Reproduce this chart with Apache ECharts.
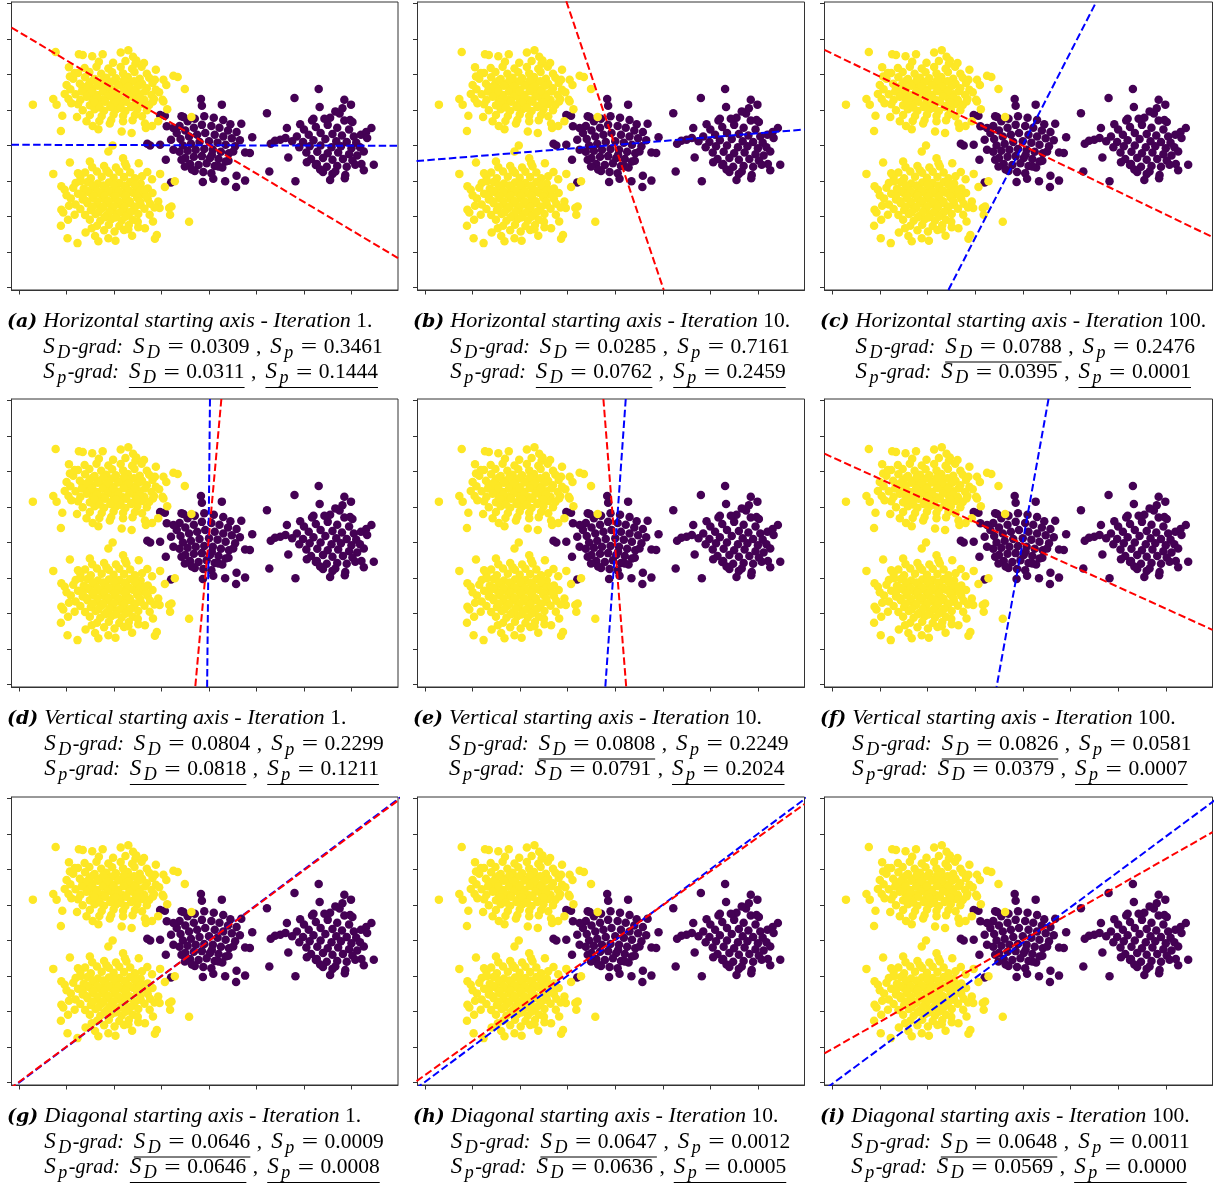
<!DOCTYPE html>
<html>
<head>
<meta charset="utf-8">
<script src="https://cdn.jsdelivr.net/npm/echarts@6/dist/echarts.min.js"></script>
<style>
  html, body { margin: 0; padding: 0; background: #fff; }
  #chart { width: 1219px; height: 1187px; }
</style>
</head>
<body>
<div id="chart"></div>
<script>
// ---- point clouds (standardised feature space) ----
const yellowUpper = [
  [-2.32,2.36],[-2.02,2.33],[-1.76,2.38],[-1.55,2.30],
  [-2.62,2.18],[-2.37,2.22],[-2.12,2.17],[-1.86,2.21],[-1.62,2.16],[-1.42,2.22],
  [-2.76,2.04],[-2.52,2.07],[-2.27,2.02],[-2.04,2.06],[-1.81,2.03],[-1.57,2.07],[-1.31,2.02],
  [-2.86,1.88],[-2.61,1.92],[-2.41,1.87],[-2.16,1.91],[-1.96,1.89],[-1.71,1.93],[-1.46,1.88],[-1.26,1.91],
  [-2.72,1.74],[-2.51,1.77],[-2.31,1.73],[-2.09,1.76],[-1.86,1.72],[-1.66,1.77],[-1.41,1.74],[-1.19,1.76],
  [-2.92,1.58],[-2.66,1.62],[-2.46,1.59],[-2.21,1.61],[-2.01,1.57],[-1.76,1.62],[-1.56,1.58],[-1.31,1.61],[-1.12,1.57],
  [-2.81,1.44],[-2.56,1.47],[-2.36,1.42],[-2.11,1.46],[-1.91,1.43],[-1.66,1.47],[-1.46,1.44],[-1.21,1.42],
  [-2.96,1.31],[-2.71,1.28],[-2.46,1.32],[-2.26,1.29],[-2.01,1.31],[-1.81,1.27],[-1.56,1.32],[-1.36,1.28],[-1.16,1.31],
  [-2.76,1.16],[-2.51,1.13],[-2.31,1.17],[-2.06,1.14],[-1.86,1.16],[-1.61,1.12],[-1.41,1.17],[-1.26,1.14],
  [-2.66,0.99],[-2.41,1.02],[-2.21,0.98],[-1.96,1.01],[-1.76,0.97],[-1.51,1.02],[-1.31,0.99],
  [-2.51,0.86],[-2.26,0.83],[-2.01,0.87],[-1.81,0.84],[-1.56,0.86],[-1.41,0.82],
  [-2.31,0.69],[-2.06,0.72],[-1.81,0.68],[-1.61,0.71],
  [-2.45,1.82],[-2.23,1.83],[-2.02,1.81],[-1.80,1.83],[-1.58,1.81],
  [-2.57,1.67],[-2.34,1.68],[-2.13,1.66],[-1.91,1.69],[-1.70,1.66],[-1.48,1.68],
  [-2.68,1.52],[-2.46,1.53],[-2.24,1.51],[-2.02,1.52],[-1.80,1.53],[-1.57,1.51],[-1.35,1.52],
  [-2.58,1.37],[-2.36,1.36],[-2.14,1.38],[-1.91,1.36],[-1.68,1.38],[-1.46,1.36],
  [-2.41,1.22],[-2.19,1.23],[-1.96,1.21],[-1.74,1.23],[-1.52,1.21],
  [-2.30,1.07],[-2.08,1.08],[-1.86,1.06],[-1.64,1.08],
  [-3.71,1.15],[-3.23,2.63],[-2.74,2.57],[-2.66,2.55],[-2.46,2.51],[-2.24,2.57],[-1.86,2.62],[-1.70,2.68],
  [-1.53,2.39],[-1.37,2.32],[-1.12,2.13],[-0.75,1.96],[-0.66,1.93],[-0.51,1.59],[-1.14,1.85],[-0.96,1.85],
  [-3.28,1.31],[-3.21,1.15],[-3.09,0.84],[-3.12,0.41],[-2.93,1.94],[-2.83,2.04],[-3.04,1.45],[-2.90,1.19],
  [-2.58,0.68],[-2.33,0.46],[-2.09,0.62],[-1.84,0.39],[-1.63,0.35],[-1.35,0.62],[-1.33,0.49],[-1.18,1.24],
  [-0.98,1.29],[-1.07,0.68],[-0.37,0.80],[-0.96,1.24],[-3.00,1.70],[-2.95,2.20],[-1.05,1.50],[-0.88,1.02],
  [-1.20,0.55],[-2.45,0.55],[-2.78,0.80],[-0.90,1.70],[-1.60,2.50],
  [-2.03,0.00],[-2.12,-0.17]
];
const yellowLower = [
  [-2.46,-0.61],[-2.21,-0.58],[-1.96,-0.62],[-1.74,-0.59],
  [-2.61,-0.76],[-2.36,-0.73],[-2.11,-0.77],[-1.89,-0.74],[-1.66,-0.76],
  [-2.71,-0.89],[-2.49,-0.92],[-2.26,-0.88],[-2.01,-0.91],[-1.79,-0.89],[-1.56,-0.92],
  [-2.81,-1.06],[-2.56,-1.03],[-2.34,-1.07],[-2.11,-1.04],[-1.89,-1.06],[-1.66,-1.03],[-1.44,-1.07],
  [-2.86,-1.19],[-2.64,-1.22],[-2.41,-1.18],[-2.19,-1.21],[-1.96,-1.19],[-1.74,-1.22],[-1.51,-1.18],[-1.29,-1.21],
  [-2.76,-1.36],[-2.51,-1.33],[-2.29,-1.37],[-2.06,-1.34],[-1.84,-1.36],[-1.61,-1.33],[-1.39,-1.37],[-1.19,-1.34],
  [-2.91,-1.49],[-2.66,-1.52],[-2.44,-1.48],[-2.21,-1.51],[-1.99,-1.49],[-1.76,-1.52],[-1.51,-1.48],[-1.29,-1.51],
  [-2.81,-1.66],[-2.56,-1.63],[-2.34,-1.67],[-2.11,-1.64],[-1.89,-1.66],[-1.66,-1.63],[-1.44,-1.67],[-1.24,-1.64],
  [-2.71,-1.79],[-2.49,-1.82],[-2.26,-1.78],[-2.04,-1.81],[-1.81,-1.79],[-1.59,-1.82],[-1.36,-1.78],
  [-2.61,-1.96],[-2.39,-1.93],[-2.16,-1.97],[-1.94,-1.94],[-1.71,-1.96],[-1.49,-1.93],
  [-2.51,-2.09],[-2.29,-2.12],[-2.06,-2.08],[-1.84,-2.11],[-1.61,-2.09],
  [-2.36,-2.26],[-2.11,-2.23],[-1.89,-2.27],[-1.69,-2.24],
  [-2.21,-2.39],[-1.99,-2.42],[-1.79,-2.38],
  [-2.45,-1.12],[-2.23,-1.13],[-2.00,-1.11],[-1.78,-1.13],[-1.56,-1.11],
  [-2.57,-1.27],[-2.35,-1.28],[-2.12,-1.26],[-1.90,-1.28],[-1.68,-1.27],[-1.45,-1.28],
  [-2.66,-1.42],[-2.43,-1.43],[-2.20,-1.41],[-1.97,-1.43],[-1.75,-1.42],[-1.52,-1.43],[-1.32,-1.42],
  [-2.57,-1.57],[-2.35,-1.58],[-2.12,-1.56],[-1.90,-1.58],[-1.67,-1.57],[-1.45,-1.58],
  [-2.45,-1.72],[-2.23,-1.73],[-2.00,-1.71],[-1.78,-1.73],[-1.55,-1.72],
  [-2.33,-1.88],[-2.10,-1.87],[-1.88,-1.89],[-1.65,-1.87],
  [-2.20,-2.02],[-1.98,-2.03],[-1.76,-2.01],
  [-3.28,-0.80],[-2.93,-0.48],[-2.51,-0.45],[-1.81,-0.36],[-1.77,-0.50],[-1.48,-0.50],[-1.03,-0.80],[-0.93,-1.17],
  [-0.72,-1.01],[-3.11,-1.15],[-3.04,-1.25],[-3.11,-1.81],[-3.07,-1.89],[-2.97,-2.09],[-3.12,-2.26],[-2.98,-2.61],
  [-2.77,-2.75],[-2.33,-2.70],[-1.97,-2.68],[-2.12,-2.61],[-1.62,-2.54],[-1.14,-2.63],[-1.10,-2.52],[-1.07,-1.58],
  [-1.04,-1.76],[-0.84,-1.76],[-0.79,-1.72],[-0.82,-1.95],[-0.42,-2.15],[-1.18,-2.14],[-1.35,-2.33],[-1.49,-2.30],
  [-1.70,-2.36],[-2.47,-2.33],[-2.83,-1.95],[-2.76,-0.78],[-2.70,-1.01],[-2.16,-0.70],[-1.41,-0.87],[-1.35,-1.25],
  [-1.20,-0.95],[-1.15,-1.75],[-1.25,-1.95],[-2.95,-1.70],[-3.00,-1.40],[-2.60,-2.45],[-2.40,-2.55],[-1.50,-2.15],
  [-1.30,-0.75]
];
const purpleMiddle = [
  [-0.62,0.55],[-0.45,0.68],[-0.30,0.75],[-0.10,0.82],[0.10,0.78],[0.30,0.72],[0.45,0.60],
  [-0.68,0.35],[-0.50,0.42],[-0.32,0.50],[-0.15,0.58],[0.05,0.55],[0.22,0.50],[0.40,0.42],[0.58,0.38],
  [-0.60,0.18],[-0.42,0.25],[-0.25,0.30],[-0.08,0.35],[0.12,0.30],[0.30,0.25],[0.48,0.20],[0.65,0.15],
  [-0.55,0.00],[-0.38,0.05],[-0.20,0.10],[0.00,0.12],[0.18,0.08],[0.35,0.02],[0.55,-0.02],
  [-0.62,-0.18],[-0.45,-0.15],[-0.28,-0.12],[-0.10,-0.10],[0.08,-0.12],[0.25,-0.18],[0.42,-0.22],
  [-0.50,-0.35],[-0.32,-0.32],[-0.15,-0.30],[0.02,-0.35],[0.20,-0.38],[0.35,-0.45],
  [-0.40,-0.52],[-0.22,-0.55],[-0.05,-0.50],[0.12,-0.58],[0.28,-0.62],
  [-0.30,-0.72],[-0.12,-0.75],[0.05,-0.78],
  [-0.17,1.31],[-0.15,1.12],[0.27,1.15],[-0.58,0.82],[-0.54,0.80],[-1.03,0.86],[-0.93,0.84],[0.68,0.61],
  [0.91,0.23],[-1.30,0.05],[-1.24,0.00],[-1.03,0.02],[-0.91,-0.40],[-0.75,-0.12],[-0.80,0.16],[-0.89,0.54],
  [-0.75,0.49],[-0.13,-1.03],[0.09,-0.94],[0.34,-1.01],[0.58,-0.85],[0.57,-1.17],[0.76,-0.99],[-0.36,-0.68],
  [-0.58,-0.40],[-0.51,-0.59],[0.76,-0.20],[0.86,-0.21],[0.51,-0.17],[0.41,-0.43],[0.20,-0.59],[0.06,-0.26],
  [-0.80,-1.04]
];
const purpleRight = [
  [2.00,0.45],[2.25,0.52],[2.50,0.58],[2.70,0.50],[2.95,0.45],
  [1.85,0.25],[2.10,0.30],[2.35,0.35],[2.60,0.32],[2.80,0.28],[3.05,0.25],[3.20,0.30],
  [1.75,0.12],[1.98,0.10],[2.20,0.15],[2.45,0.18],[2.68,0.12],[2.90,0.10],[3.10,0.08],
  [1.90,-0.05],[2.12,-0.02],[2.35,0.00],[2.58,-0.05],[2.78,-0.02],[3.00,-0.08],[3.18,-0.05],
  [2.05,-0.20],[2.28,-0.18],[2.50,-0.22],[2.72,-0.20],[2.95,-0.25],[3.12,-0.28],
  [2.15,-0.38],[2.40,-0.35],[2.60,-0.40],[2.82,-0.38],[3.02,-0.42],
  [2.25,-0.55],[2.48,-0.60],[2.70,-0.58],[2.90,-0.60],
  [2.40,-0.75],[2.60,-0.80],[2.20,0.75],[2.55,0.78],[2.85,0.70],[2.75,0.90],
  [2.31,1.59],[1.80,1.34],[1.22,0.91],[2.85,1.29],[2.99,1.15],[2.81,1.05],[2.66,0.96],[2.33,1.08],
  [2.43,0.75],[2.17,0.70],[1.92,0.60],[1.64,0.49],[2.97,0.72],[3.02,0.66],[3.42,0.49],[3.31,0.38],
  [3.33,0.21],[1.50,0.16],[1.39,0.13],[1.30,0.05],[1.61,0.21],[1.67,-0.34],[1.27,-0.73],[1.82,-1.01],
  [2.06,-0.47],[2.55,-0.97],[2.87,-0.83],[2.86,-0.92],[3.26,-0.70],[3.21,-0.52],[3.47,-0.54],[2.27,-0.52],
  [2.34,-0.68],[2.66,-0.73],[3.08,-0.54],[3.26,-0.17]
];

// ---- projection axes per panel (two end points each) ----
const redAxes = [
  [[-4.16, 3.32], [3.98, -3.17]],
  [[-1.03, 4.06], [1.02, -4.07]],
  [[-4.16, 2.69], [3.98, -2.58]],
  [[0.26, 4.04], [-0.29, -4.07]],
  [[-0.25, 4.04], [0.23, -4.07]],
  [[-4.16, 2.50], [3.98, -2.46]],
  [[-4.20, -4.18], [4.10, 4.06]],
  [[-4.18, -3.96], [3.98, 3.84]],
  [[-4.16, -3.18], [3.98, 3.05]]
];
const blueAxes = [
  [[-4.16, 0.02], [3.98, -0.01]],
  [[-4.18, -0.44], [3.98, 0.45]],
  [[-1.56, -4.07], [1.54, 4.04]],
  [[0.02, 4.04], [-0.04, -4.07]],
  [[0.22, 4.04], [-0.21, -4.07]],
  [[0.54, 4.04], [-0.55, -4.07]],
  [[-4.20, -4.20], [4.10, 4.10]],
  [[-4.20, -4.18], [4.10, 4.10]],
  [[-4.10, -4.14], [4.10, 4.02]]
];

// ---- tick positions ----
const xTicks = [-4, -3, -2, -1, 0, 1, 2, 3];
const yTicks = [-4, -3, -2, -1, 0, 1, 2, 3, 4];

// ---- captions ----
const panelLetters = ['a', 'b', 'c', 'd', 'e', 'f', 'g', 'h', 'i'];
const startingAxis = ['Horizontal', 'Horizontal', 'Horizontal', 'Vertical', 'Vertical', 'Vertical', 'Diagonal', 'Diagonal', 'Diagonal'];
const iterations = ['1', '10', '100', '1', '10', '100', '1', '10', '100'];
const sdGradSD = ['0.0309', '0.0285', '0.0788', '0.0804', '0.0808', '0.0826', '0.0646', '0.0647', '0.0648'];
const sdGradSp = ['0.3461', '0.7161', '0.2476', '0.2299', '0.2249', '0.0581', '0.0009', '0.0012', '0.0011'];
const spGradSD = ['0.0311', '0.0762', '0.0395', '0.0818', '0.0791', '0.0379', '0.0646', '0.0636', '0.0569'];
const spGradSp = ['0.1444', '0.2459', '0.0001', '0.1211', '0.2024', '0.0007', '0.0008', '0.0005', '0.0000'];
// which scores are underlined (best of the two gradients)
const ulSdGradSD = [false, false, true, false, true, true, true, true, true];
const ulSpGradSD = [true, true, false, true, false, false, true, false, false];
const ulSpGradSp = [true, true, true, true, true, true, true, true, true];

// ---- layout ----
const colLeft = [11.5, 417.5, 824.5];
const colWidth = [386.5, 387, 388];
const rowTop = [2, 399, 797];
const rowHeight = 288;
const captionX = [7, 413, 820];

const YELLOW = '#fde725';
const PURPLE = '#440154';
const FRAME = '#333333';

const grids = [], xAxes = [], yAxes = [], series = [];
const purpleAll = purpleMiddle.concat(purpleRight);
const yellowAll = yellowUpper.concat(yellowLower);

for (let p = 0; p < 9; p++) {
  const r = Math.floor(p / 3), c = p % 3;
  grids.push({
    left: colLeft[c], top: rowTop[r], width: colWidth[c], height: rowHeight,
    containLabel: false, show: true, borderColor: FRAME, borderWidth: 1,
    backgroundColor: 'transparent'
  });
  xAxes.push({
    type: 'value', gridIndex: p, min: -4.16, max: 3.98,
    axisLine: { show: true, onZero: false, lineStyle: { color: FRAME, width: 1 } },
    axisTick: { show: true, inside: false, length: 4.5, lineStyle: { color: FRAME, width: 1 }, customValues: xTicks },
    axisLabel: { show: false, customValues: xTicks },
    splitLine: { show: false }
  });
  yAxes.push({
    type: 'value', gridIndex: p, min: -4.07, max: 4.04,
    axisLine: { show: true, onZero: false, lineStyle: { color: FRAME, width: 1 } },
    axisTick: { show: true, inside: false, length: 4.5, lineStyle: { color: FRAME, width: 1 }, customValues: yTicks },
    axisLabel: { show: false, customValues: yTicks },
    splitLine: { show: false }
  });
  series.push({
    type: 'scatter', xAxisIndex: p, yAxisIndex: p, data: purpleAll,
    symbolSize: 8.5, itemStyle: { color: PURPLE, opacity: 1 }, silent: true, z: 2
  });
  series.push({
    type: 'scatter', xAxisIndex: p, yAxisIndex: p, data: yellowAll,
    symbolSize: 8.5, itemStyle: { color: YELLOW, opacity: 1 }, silent: true, z: 3
  });
  series.push({
    type: 'line', xAxisIndex: p, yAxisIndex: p, data: blueAxes[p], symbol: 'none',
    clip: true, silent: true, z: 4,
    lineStyle: { color: '#0000ff', width: 2, type: [7.5, 3.3] }
  });
  series.push({
    type: 'line', xAxisIndex: p, yAxisIndex: p, data: redAxes[p], symbol: 'none',
    clip: true, silent: true, z: 5,
    lineStyle: { color: '#ff0000', width: 2, type: [7.5, 3.3] }
  });
}

// ---- caption typesetting ----
const measureCtx = document.createElement('canvas').getContext('2d');
function textWidth(t, font) { measureCtx.font = font; return measureCtx.measureText(t).width; }
const SERIF = "'Liberation Serif', 'Times New Roman', serif";
const FONTS = {
  label: "bold italic 19px 'DejaVu Serif', serif",
  title: 'italic 20.5px ' + SERIF,
  ital: 'italic 20px ' + SERIF,
  num: '21.5px ' + SERIF,
  S: 'italic 23px ' + SERIF,
  sub: 'italic 18px ' + SERIF,
  eq: '21.5px ' + SERIF
};
function fontSize(font) { return parseFloat(font.match(/([\d.]+)px/)[1]); }

const graphics = [];
function setLine(x, baseline, segs) {
  let cx = x;
  const marks = {};
  segs.forEach(s => {
    if (s.gap) { cx += s.gap; return; }
    cx += s.dx || 0;
    if (s.mark) marks[s.mark] = cx;
    const size = fontSize(s.f);
    const sx = s.sx || 1;
    const by = baseline + (s.dy || 0);
    graphics.push({
      type: 'text', x: cx, y: by - 0.34 * size, scaleX: sx, silent: true,
      style: { text: s.t, font: s.f, fill: '#000', align: 'left', verticalAlign: 'middle' }
    });
    cx += textWidth(s.t, s.f) * sx;
    if (s.end) marks[s.end] = cx;
  });
  return marks;
}
function underline(x1, x2, y) {
  graphics.push({
    type: 'line', silent: true,
    shape: { x1: x1, y1: y, x2: x2, y2: y },
    style: { stroke: '#000', lineWidth: 1 }
  });
}
function scoreSegs(gradSub, sd, sp) {
  return [
    { t: 'S', f: FONTS.S }, { t: gradSub, f: FONTS.sub, dy: 4.5, dx: 2.5 },
    { t: '-grad:', f: FONTS.ital, dx: 1.5 },
    { gap: 10 },
    { t: 'S', f: FONTS.S, mark: 'a0' }, { t: 'D', f: FONTS.sub, dy: 4.5, dx: 2.5 },
    { gap: 7.5 }, { t: '=', f: FONTS.eq, sx: 1.35, dy: 0.5 }, { gap: 6.5 },
    { t: sd, f: FONTS.num, end: 'a1' },
    { gap: 6.5 }, { t: ',', f: FONTS.num }, { gap: 9 },
    { t: 'S', f: FONTS.S, mark: 'b0' }, { t: 'p', f: FONTS.sub, dy: 4.5, dx: 2.5 },
    { gap: 7.5 }, { t: '=', f: FONTS.eq, sx: 1.35, dy: 0.5 }, { gap: 6.5 },
    { t: sp, f: FONTS.num, end: 'b1' }
  ];
}

for (let p = 0; p < 9; p++) {
  const r = Math.floor(p / 3), c = p % 3;
  const x0 = captionX[c];
  const b1 = rowTop[r] + 327, b2 = b1 + 25.5, b3 = b1 + 51;
  const label = '(' + panelLetters[p] + ')';
  const indent = textWidth(label, FONTS.label) + 6;
  const xt = x0 + indent;
  graphics.push({
    type: 'text', x: x0, y: b1 - 0.34 * 19, silent: true,
    style: { text: label, font: FONTS.label, fill: '#000', align: 'left', verticalAlign: 'middle' }
  });
  setLine(xt, b1, [
    { t: startingAxis[p] + ' starting axis - Iteration ', f: FONTS.title, sx: 1.08 },
    { t: iterations[p] + '.', f: FONTS.num }
  ]);
  const m2 = setLine(xt, b2, scoreSegs('D', sdGradSD[p], sdGradSp[p]));
  if (ulSdGradSD[p]) underline(m2.a0, m2.a1, b2 + 7.5);
  const m3 = setLine(xt, b3, scoreSegs('p', spGradSD[p], spGradSp[p]));
  if (ulSpGradSD[p]) underline(m3.a0, m3.a1, b3 + 7.5);
  if (ulSpGradSp[p]) underline(m3.b0, m3.b1, b3 + 7.5);
}

const chart = echarts.init(document.getElementById('chart'), null, { renderer: 'canvas' });
chart.setOption({
  animation: false,
  backgroundColor: '#ffffff',
  grid: grids,
  xAxis: xAxes,
  yAxis: yAxes,
  series: series,
  graphic: { elements: graphics }
});
</script>
</body>
</html>
